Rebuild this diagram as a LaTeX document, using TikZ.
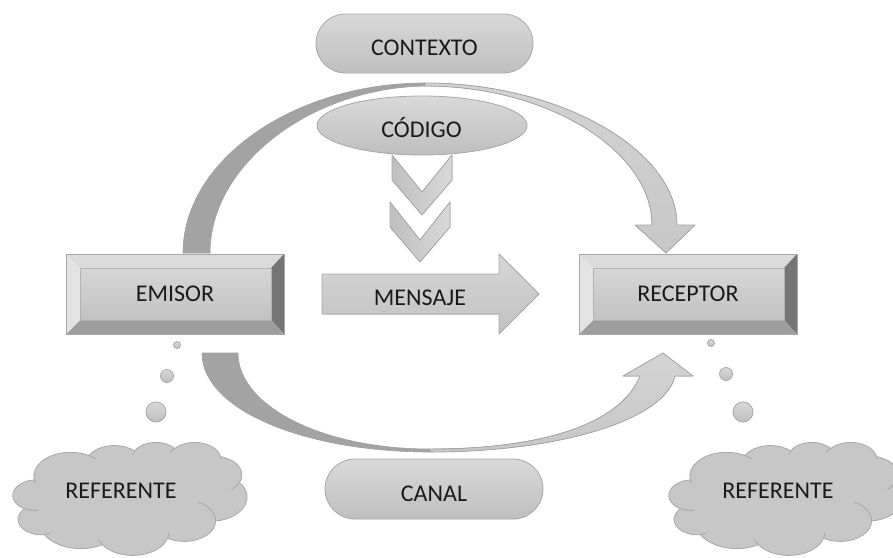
\documentclass[tikz,border=0pt]{standalone}
\usepackage{fontspec}
\setmainfont{Carlito}
\usetikzlibrary{shapes.misc,shapes.geometric}
\definecolor{bd}{HTML}{A6A6A6}
\definecolor{fillT}{HTML}{D9D9D9}
\definecolor{fillB}{HTML}{BFBFBF}
\definecolor{darkarc}{HTML}{A3A3A3}
\definecolor{lightarc}{HTML}{CDCDCD}
\definecolor{txt}{HTML}{1A1A1A}
\newcommand\ooarc[4]{arc[x radius=#1, y radius=#2, start angle={atan2(#1*sin(#3),#2*cos(#3))}, delta angle={mod(atan2(#1*sin(#3+#4),#2*cos(#3+#4))-atan2(#1*sin(#3),#2*cos(#3))+720,360)}]}
\newcommand\mycloud[2]{%
\begin{scope}[shift={(#1,#2)}]
\begin{scope}[x=0.054167pt,y=-0.026157pt]
\filldraw[cloudsty] (390,1437) \ooarc{675.3}{919.0}{-190.487}{123.781}
 \ooarc{533.3}{726.7}{-144.102}{89.945}
 \ooarc{436.5}{594.5}{-145.808}{99.723}
 \ooarc{485.7}{659.5}{-130.986}{117.242}
 \ooarc{533.3}{727.3}{-78.709}{109.027}
 \ooarc{677.5}{922.0}{-46.267}{130.269}
 \ooarc{578.5}{786.7}{0.625}{114.033}
 \ooarc{675.2}{921.5}{22.452}{115.173}
 \ooarc{772.0}{1054.3}{66.243}{75.711}
 \ooarc{436.0}{591.8}{-274.942}{146.736}
 \ooarc{434.5}{594.5}{-246.829}{152.519} -- cycle;
\draw[cloudin] (469.3,2617.7) \ooarc{434.5}{594.5}{86.742}{26.430};
\draw[cloudin] (692.8,3489.9) \ooarc{436.0}{591.8}{73.610}{11.447};
\draw[cloudin] (1647.8,3909.0) \ooarc{675.2}{921.5}{137.624}{14.081};
\draw[cloudin] (2882.7,3475.1) \ooarc{675.2}{921.5}{6.453}{15.998};
\draw[cloudin] (3412.9,2295.4) \ooarc{578.5}{786.7}{-70.292}{70.917};
\draw[cloudin] (4179.8,1535.4) \ooarc{533.3}{727.3}{30.318}{27.752};
\draw[cloudin] (3832.4,542.6) \ooarc{485.7}{659.5}{-13.744}{14.859};
\draw[cloudin] (2907.8,395.2) \ooarc{485.7}{659.5}{-149.181}{18.195};
\draw[cloudin] (2214.1,472.0) \ooarc{436.5}{594.5}{-163.494}{17.686};
\draw[cloudin] (1400.0,519.2) \ooarc{675.3}{919.0}{-66.707}{12.319};
\draw[cloudin] (412.7,1578.9) \ooarc{675.3}{919.0}{157.654}{11.858};
\end{scope}
\end{scope}}
\newcommand\bevbox[3]{%
\pgfmathsetmacro\bxa{#2}\pgfmathsetmacro\bxb{#2+218}\pgfmathsetmacro\bxc{#2+14}\pgfmathsetmacro\bxd{#2+205}%
\pgfmathsetmacro\bya{#3}\pgfmathsetmacro\byb{#3+80}\pgfmathsetmacro\byc{#3+14}\pgfmathsetmacro\byd{#3+66}%
\fill[bevtop] (\bxa,\bya) -- (\bxb,\bya) -- (\bxd,\byc) -- (\bxc,\byc) -- cycle;
\fill[bevright] (\bxb,\bya) -- (\bxb,\byb) -- (\bxd,\byd) -- (\bxd,\byc) -- cycle;
\fill[bevbot] (\bxb,\byb) -- (\bxa,\byb) -- (\bxc,\byd) -- (\bxd,\byd) -- cycle;
\fill[bevleft] (\bxa,\byb) -- (\bxa,\bya) -- (\bxc,\byc) -- (\bxc,\byd) -- cycle;
\node[face, minimum width=191, minimum height=52, anchor=north west] (#1) at (\bxc,\byc) {};
\draw[bd, line width=0.8pt] (\bxa,\bya) rectangle (\bxb,\byb);
}
\tikzset{
 shapesty/.style={draw=bd, line width=0.8pt, top color=fillT, bottom color=fillB, inner sep=0pt},
 pill/.style={shapesty, rounded rectangle},
 ovalsty/.style={shapesty, ellipse},
 cloudsty/.style={draw=bd, line width=0.8pt, fill=black!22},
 cloudin/.style={draw=bd, line width=0.8pt},
 bub/.style={circle, draw=bd, line width=0.8pt, top color=black!15, bottom color=black!25, inner sep=0pt},
 chev/.style={draw=bd, line width=0.8pt, left color=black!25, right color=black!15},
 blockarrow/.style={draw=bd, line width=0.8pt, top color=black!16, bottom color=black!24},
 darkband/.style={draw=black!38, line width=0.6pt, fill=darkarc},
 lightband/.style={draw=bd, line width=0.8pt, top color=black!17, bottom color=black!22},
 bevtop/.style={fill=black!14},
 bevleft/.style={fill=black!11},
 bevright/.style={fill=black!54},
 bevbot/.style={fill=black!38},
 face/.style={draw=black!30, line width=0.5pt, top color=black!16, bottom color=black!24, inner sep=0pt},
 lbl/.style={anchor=base, inner sep=0pt, text=txt, font=\fontsize{24}{28}\selectfont},
}
\begin{document}
\begin{tikzpicture}[x=1pt,y=-1pt,line join=round]
\useasboundingbox (0,0) rectangle (893,557);
% top curved arrow
\filldraw[darkband] (183,253) .. controls (183,160) and (294,83) .. (425,83) -- (425,86) .. controls (310,88) and (210,165) .. (210,253) -- cycle;
\filldraw[lightband] (425,83) .. controls (560,83) and (677,150) .. (677,225) -- (695,225) -- (666,253) -- (635,225) -- (652,225) .. controls (652,152) and (550,86) .. (425,86) -- cycle;
% bottom curved arrow
\filldraw[darkband] (202,353) -- (238,353) .. controls (238,405) and (320,449) .. (430,449) -- (430,452) .. controls (305,452) and (202,410) .. (202,353) -- cycle;
\filldraw[lightband] (430,452) .. controls (560,452) and (665,420) .. (675,376) -- (693,376) -- (663,353) -- (623,376) -- (640,376) .. controls (620,425) and (540,449) .. (430,449) -- cycle;
% contexto, codigo, canal
\node[pill, minimum width=217, minimum height=59] (contexto) at (424.5,43.5) {};
\node[lbl] (contextoT) at (424.5,55) {CONTEXTO};
\node[ovalsty, minimum width=210, minimum height=59] (codigo) at (422,125.5) {};
\node[lbl] (codigoT) at (421.5,137) {CÓDIGO};
\node[pill, minimum width=218, minimum height=60] (canal) at (434,489) {};
\node[lbl] (canalT) at (434,501) {CANAL};
% chevrons
\filldraw[chev] (392,155) -- (422,192) -- (452,155) -- (452,180) -- (422,215) -- (392,180) -- cycle;
\filldraw[chev] (390,202) -- (420,240) -- (450,202) -- (450,227) -- (420,262) -- (390,227) -- cycle;
% mensaje arrow
\filldraw[blockarrow] (322,274) -- (499,274) -- (499,254) -- (539,294) -- (499,334) -- (499,314) -- (322,314) -- cycle;
\node[lbl] (mensajeT) at (420,305) {MENSAJE};
% boxes
\bevbox{emisor}{66}{254}
\node[lbl] (emisorT) at (175,301) {EMISOR};
\bevbox{receptor}{579}{254}
\node[lbl] (receptorT) at (688,301) {RECEPTOR};
% bubbles
\node[bub, minimum size=7] (bl1) at (177,345) {};
\node[bub, minimum size=13] (bl2) at (167,376) {};
\node[bub, minimum size=20] (bl3) at (156,412) {};
\node[bub, minimum size=7] (br1) at (711,343) {};
\node[bub, minimum size=13] (br2) at (726,374) {};
\node[bub, minimum size=20] (br3) at (743,412) {};
% clouds
\mycloud{13}{442}
\node[lbl] (refL) at (121,498) {REFERENTE};
\mycloud{669}{442}
\node[lbl] (refR) at (778,498) {REFERENTE};
\end{tikzpicture}
\end{document}
